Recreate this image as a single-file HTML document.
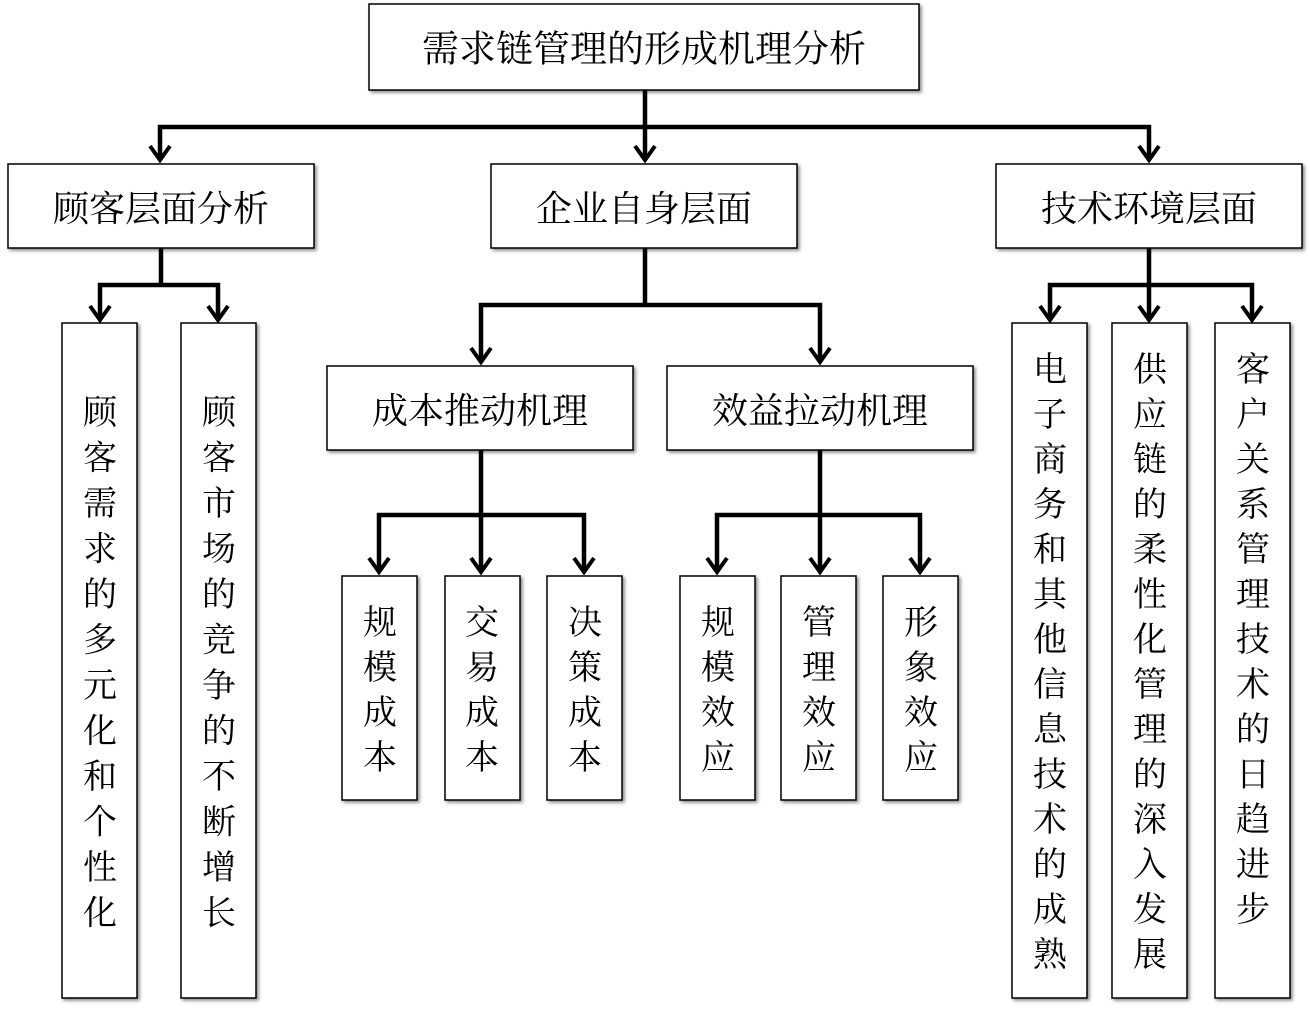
<!DOCTYPE html>
<html><head><meta charset="utf-8"><style>
html,body{margin:0;padding:0;background:#fff;}
svg{display:block;}
text{font-family:"Liberation Serif","Noto Serif CJK SC",serif;fill:#000;}
</style></head><body>
<svg width="1310" height="1012" viewBox="0 0 1310 1012" xmlns="http://www.w3.org/2000/svg">
<defs><filter id="sh" x="-10%" y="-10%" width="130%" height="130%"><feDropShadow dx="2" dy="2" stdDeviation="1.5" flood-color="#000" flood-opacity="0.45"/></filter></defs>
<g fill="#fff" stroke="#000" stroke-width="1.5" filter="url(#sh)">
<rect x="369" y="4" width="550" height="86"/>
<rect x="8" y="164" width="306" height="84"/>
<rect x="491" y="164" width="306" height="84"/>
<rect x="996" y="164" width="306" height="84"/>
<rect x="62" y="323" width="75" height="675"/>
<rect x="181" y="323" width="75" height="675"/>
<rect x="327" y="366" width="306" height="84"/>
<rect x="667" y="366" width="306" height="84"/>
<rect x="342" y="576" width="75" height="224"/>
<rect x="445" y="576" width="75" height="224"/>
<rect x="547" y="576" width="75" height="224"/>
<rect x="680" y="576" width="75" height="224"/>
<rect x="781" y="576" width="75" height="224"/>
<rect x="883" y="576" width="75" height="224"/>
<rect x="1012" y="323" width="75" height="675"/>
<rect x="1112" y="323" width="75" height="675"/>
<rect x="1215" y="323" width="75" height="675"/>
</g>
<g fill="none" stroke="#000" stroke-width="4.5" stroke-linejoin="miter">
<path d="M645 90V160M160 160V127H1149V160"/>
<path d="M161 248V285M100 320V285H218V320"/>
<path d="M645 248V305M481 362V305H820V362"/>
<path d="M1149 248V320M1050 320V285H1252V320"/>
<path d="M481 450V572M379 572V515H584V572"/>
<path d="M820 450V572M717 572V515H920V572"/>
<g stroke-width="4">
<polyline points="150,146 160,160 170,146"/><polyline points="635,146 645,160 655,146"/><polyline points="1139,146 1149,160 1159,146"/>
<polyline points="90,306 100,320 110,306"/><polyline points="208,306 218,320 228,306"/>
<polyline points="471,348 481,362 491,348"/><polyline points="810,348 820,362 830,348"/>
<polyline points="1040,306 1050,320 1060,306"/><polyline points="1139,306 1149,320 1159,306"/><polyline points="1242,306 1252,320 1262,306"/>
<polyline points="369,558 379,572 389,558"/><polyline points="471,558 481,572 491,558"/><polyline points="574,558 584,572 594,558"/>
<polyline points="707,558 717,572 727,558"/><polyline points="810,558 820,572 830,558"/><polyline points="910,558 920,572 930,558"/>
</g>
</g>
<g text-anchor="middle" dominant-baseline="central">
<text x="644" y="50" font-size="37">需求链管理的形成机理分析</text>
<text x="161" y="209" font-size="36">顾客层面分析</text>
<text x="644" y="209" font-size="36">企业自身层面</text>
<text x="1149" y="209" font-size="36">技术环境层面</text>
<text x="480" y="411" font-size="36">成本推动机理</text>
<text x="820" y="411" font-size="36">效益拉动机理</text>
</g>
<g font-size="34" text-anchor="middle" dominant-baseline="central">
<text x="100" y="413"><tspan x="100">顾</tspan><tspan x="100" dy="45.5">客</tspan><tspan x="100" dy="45.5">需</tspan><tspan x="100" dy="45.5">求</tspan><tspan x="100" dy="45.5">的</tspan><tspan x="100" dy="45.5">多</tspan><tspan x="100" dy="45.5">元</tspan><tspan x="100" dy="45.5">化</tspan><tspan x="100" dy="45.5">和</tspan><tspan x="100" dy="45.5">个</tspan><tspan x="100" dy="45.5">性</tspan><tspan x="100" dy="45.5">化</tspan></text>
<text x="219" y="413"><tspan x="219">顾</tspan><tspan x="219" dy="45.5">客</tspan><tspan x="219" dy="45.5">市</tspan><tspan x="219" dy="45.5">场</tspan><tspan x="219" dy="45.5">的</tspan><tspan x="219" dy="45.5">竞</tspan><tspan x="219" dy="45.5">争</tspan><tspan x="219" dy="45.5">的</tspan><tspan x="219" dy="45.5">不</tspan><tspan x="219" dy="45.5">断</tspan><tspan x="219" dy="45.5">增</tspan><tspan x="219" dy="45.5">长</tspan></text>
<text x="380" y="623"><tspan x="380">规</tspan><tspan x="380" dy="45">模</tspan><tspan x="380" dy="45">成</tspan><tspan x="380" dy="45">本</tspan></text>
<text x="482" y="623"><tspan x="482">交</tspan><tspan x="482" dy="45">易</tspan><tspan x="482" dy="45">成</tspan><tspan x="482" dy="45">本</tspan></text>
<text x="585" y="623"><tspan x="585">决</tspan><tspan x="585" dy="45">策</tspan><tspan x="585" dy="45">成</tspan><tspan x="585" dy="45">本</tspan></text>
<text x="718" y="623"><tspan x="718">规</tspan><tspan x="718" dy="45">模</tspan><tspan x="718" dy="45">效</tspan><tspan x="718" dy="45">应</tspan></text>
<text x="819" y="623"><tspan x="819">管</tspan><tspan x="819" dy="45">理</tspan><tspan x="819" dy="45">效</tspan><tspan x="819" dy="45">应</tspan></text>
<text x="921" y="623"><tspan x="921">形</tspan><tspan x="921" dy="45">象</tspan><tspan x="921" dy="45">效</tspan><tspan x="921" dy="45">应</tspan></text>
<text x="1050" y="370"><tspan x="1050">电</tspan><tspan x="1050" dy="45">子</tspan><tspan x="1050" dy="45">商</tspan><tspan x="1050" dy="45">务</tspan><tspan x="1050" dy="45">和</tspan><tspan x="1050" dy="45">其</tspan><tspan x="1050" dy="45">他</tspan><tspan x="1050" dy="45">信</tspan><tspan x="1050" dy="45">息</tspan><tspan x="1050" dy="45">技</tspan><tspan x="1050" dy="45">术</tspan><tspan x="1050" dy="45">的</tspan><tspan x="1050" dy="45">成</tspan><tspan x="1050" dy="45">熟</tspan></text>
<text x="1150" y="370"><tspan x="1150">供</tspan><tspan x="1150" dy="45">应</tspan><tspan x="1150" dy="45">链</tspan><tspan x="1150" dy="45">的</tspan><tspan x="1150" dy="45">柔</tspan><tspan x="1150" dy="45">性</tspan><tspan x="1150" dy="45">化</tspan><tspan x="1150" dy="45">管</tspan><tspan x="1150" dy="45">理</tspan><tspan x="1150" dy="45">的</tspan><tspan x="1150" dy="45">深</tspan><tspan x="1150" dy="45">入</tspan><tspan x="1150" dy="45">发</tspan><tspan x="1150" dy="45">展</tspan></text>
<text x="1253" y="370"><tspan x="1253">客</tspan><tspan x="1253" dy="45">户</tspan><tspan x="1253" dy="45">关</tspan><tspan x="1253" dy="45">系</tspan><tspan x="1253" dy="45">管</tspan><tspan x="1253" dy="45">理</tspan><tspan x="1253" dy="45">技</tspan><tspan x="1253" dy="45">术</tspan><tspan x="1253" dy="45">的</tspan><tspan x="1253" dy="45">日</tspan><tspan x="1253" dy="45">趋</tspan><tspan x="1253" dy="45">进</tspan><tspan x="1253" dy="45">步</tspan></text>
</g>
</svg>
</body></html>
